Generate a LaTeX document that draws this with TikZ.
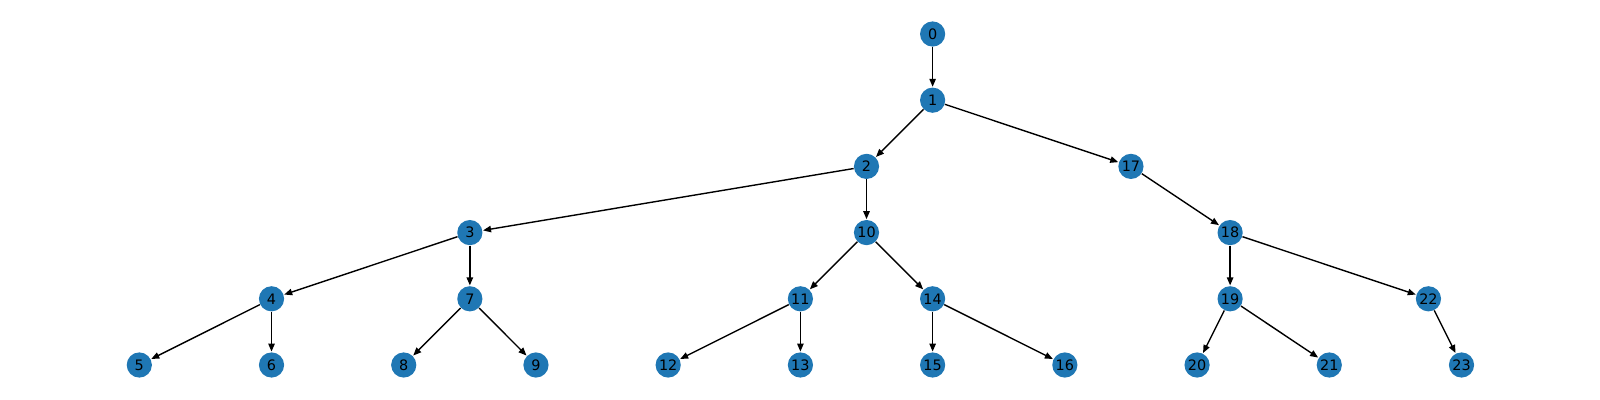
\documentclass[tikz,border=0pt]{standalone}
\usepackage{fontspec}
\setmainfont{DejaVu Sans}
\usetikzlibrary{arrows.meta}
\definecolor{nodeblue}{HTML}{1F77B4}
\tikzset{
  vert/.style={circle, fill=nodeblue, draw=none, minimum size=12.6pt, inner sep=0pt, font=\fontsize{7.2}{8}\selectfont, text=black},
  edge/.style={-{Triangle[length=4pt,width=3.2pt]}, line width=0.7pt, black, shorten >=0.2pt}
}
\begin{document}
\begin{tikzpicture}[x=0.5pt,y=-0.5pt]
\useasboundingbox (0,0) rectangle (1600,400);
\def\X#1{139.3+#1*132.22}
\node[vert] (n0)  at ({\X{6}},34) {0};
\node[vert] (n1)  at ({\X{6}},100.2) {1};
\node[vert] (n2)  at ({\X{5.5}},166.4) {2};
\node[vert] (n17) at ({\X{7.5}},166.4) {17};
\node[vert] (n3)  at ({\X{2.5}},232.6) {3};
\node[vert] (n10) at ({\X{5.5}},232.6) {10};
\node[vert] (n18) at ({\X{8.25}},232.6) {18};
\node[vert] (n4)  at ({\X{1}},298.8) {4};
\node[vert] (n7)  at ({\X{2.5}},298.8) {7};
\node[vert] (n11) at ({\X{5}},298.8) {11};
\node[vert] (n14) at ({\X{6}},298.8) {14};
\node[vert] (n19) at ({\X{8.25}},298.8) {19};
\node[vert] (n22) at ({\X{9.75}},298.8) {22};
\node[vert] (n5)  at ({\X{0}},365) {5};
\node[vert] (n6)  at ({\X{1}},365) {6};
\node[vert] (n8)  at ({\X{2}},365) {8};
\node[vert] (n9)  at ({\X{3}},365) {9};
\node[vert] (n12) at ({\X{4}},365) {12};
\node[vert] (n13) at ({\X{5}},365) {13};
\node[vert] (n15) at ({\X{6}},365) {15};
\node[vert] (n16) at ({\X{7}},365) {16};
\node[vert] (n20) at ({\X{8}},365) {20};
\node[vert] (n21) at ({\X{9}},365) {21};
\node[vert] (n23) at ({\X{10}},365) {23};
\foreach \a/\b in {0/1,1/2,1/17,2/3,2/10,3/4,3/7,4/5,4/6,7/8,7/9,10/11,10/14,11/12,11/13,14/15,14/16,17/18,18/19,18/22,19/20,19/21,22/23}
  \draw[edge] (n\a) -- (n\b);
\end{tikzpicture}
\end{document}
